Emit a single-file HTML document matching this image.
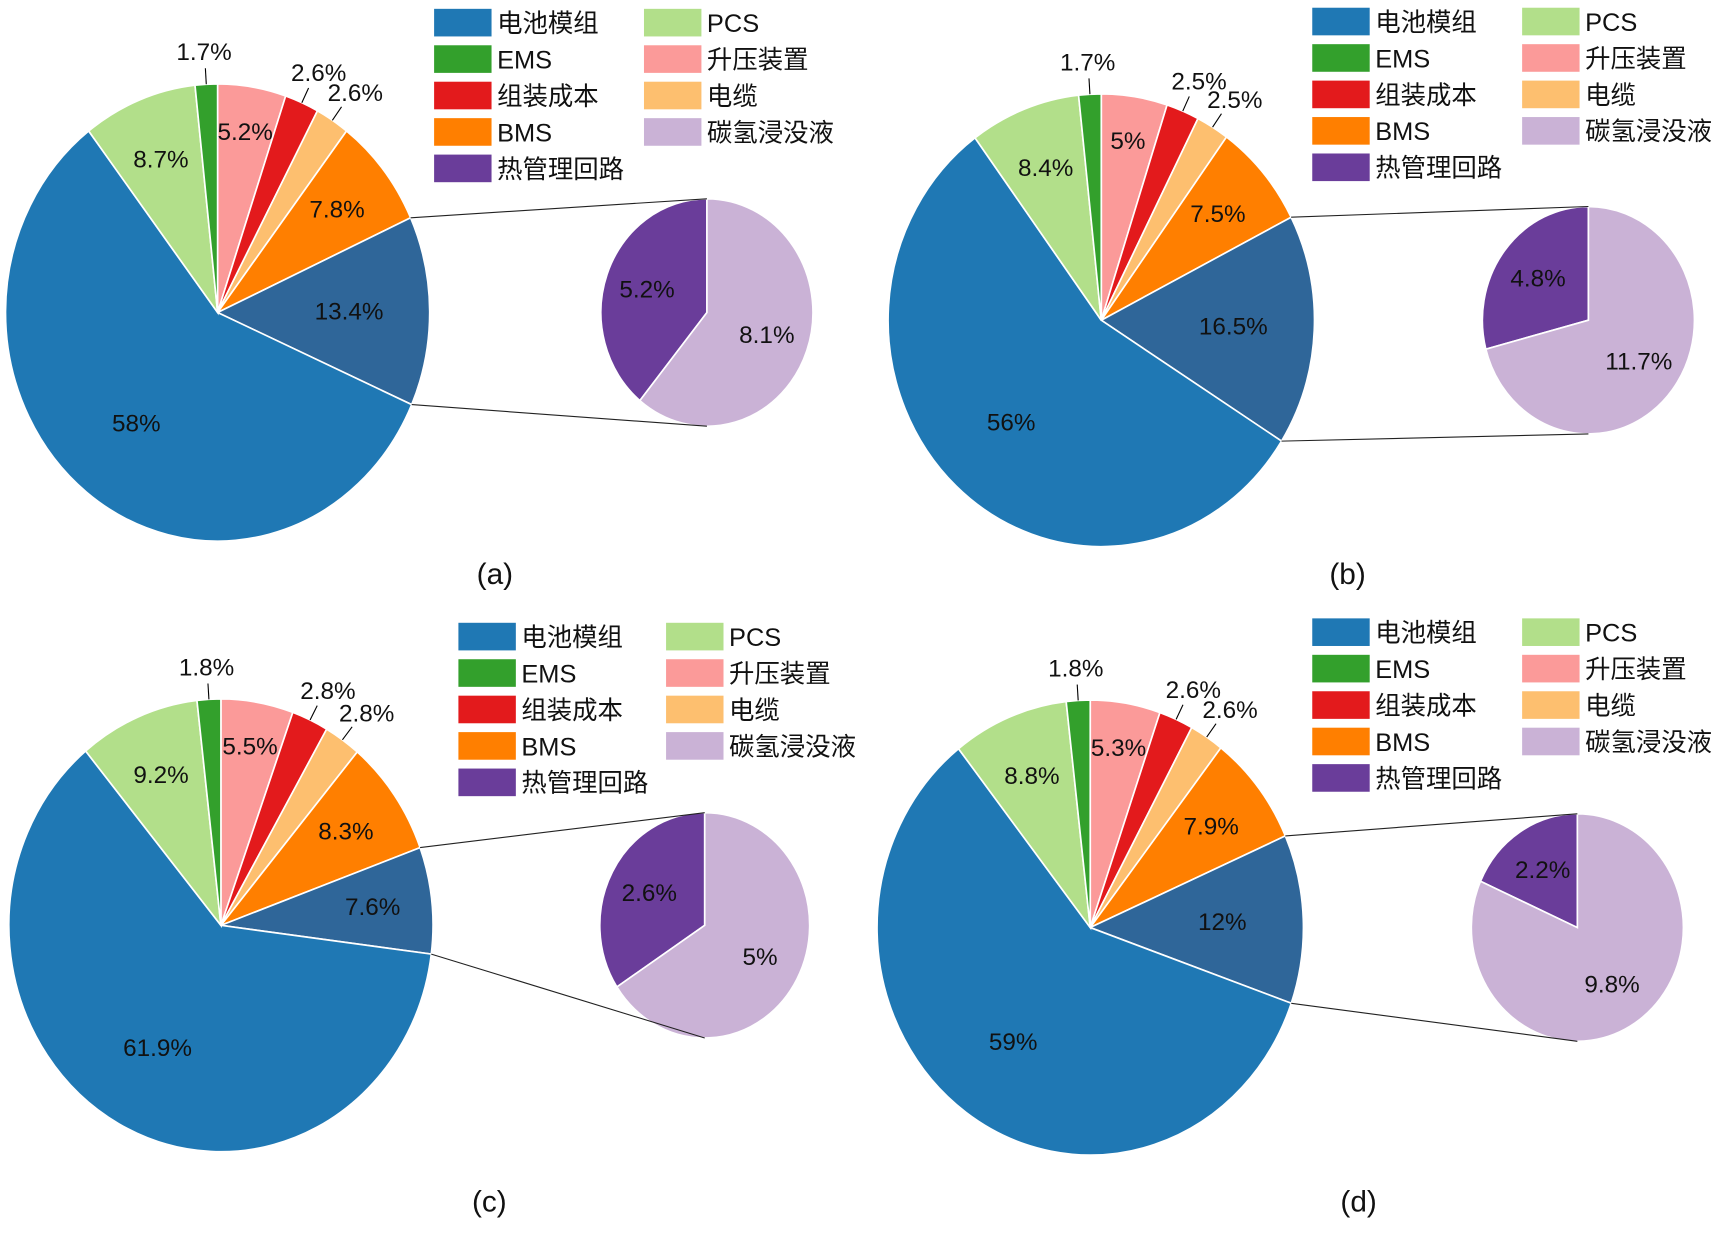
<!DOCTYPE html>
<html><head><meta charset="utf-8"><style>
html,body{margin:0;padding:0;background:#fff;}
svg{display:block;}
text{font-family:"Liberation Sans","Noto Sans CJK SC",sans-serif;}
</style></head><body>
<svg id="chart" width="1732" height="1250" viewBox="0 0 1568 1132" preserveAspectRatio="none" xmlns="http://www.w3.org/2000/svg"></svg>
<script>
// slice order (clockwise from 12 o'clock): 升压装置, 组装成本, 电缆, BMS, 热管理+碳氢(combined), 电池模组, PCS, EMS
const sliceNames = ['升压装置','组装成本','电缆','BMS','combined','电池模组','PCS','EMS'];
const valuesA = [5.2, 2.6, 2.6, 7.8, 13.4, 58, 8.7, 1.7];
const valuesB = [5, 2.5, 2.5, 7.5, 16.5, 56, 8.4, 1.7];
const valuesC = [5.5, 2.8, 2.8, 8.3, 7.6, 61.9, 9.2, 1.8];
const valuesD = [5.3, 2.6, 2.6, 7.9, 12, 59, 8.8, 1.8];
const labelsA = ['5.2%','2.6%','2.6%','7.8%','13.4%','58%','8.7%','1.7%'];
const labelsB = ['5%','2.5%','2.5%','7.5%','16.5%','56%','8.4%','1.7%'];
const labelsC = ['5.5%','2.8%','2.8%','8.3%','7.6%','61.9%','9.2%','1.8%'];
const labelsD = ['5.3%','2.6%','2.6%','7.9%','12%','59%','8.8%','1.8%'];
// sub-pie: [热管理回路, 碳氢浸没液]
const subA = [5.2, 8.1];
const subB = [4.8, 11.7];
const subC = [2.6, 5];
const subD = [2.2, 9.8];
const subLabelsA = ['5.2%','8.1%'];
const subLabelsB = ['4.8%','11.7%'];
const subLabelsC = ['2.6%','5%'];
const subLabelsD = ['2.2%','9.8%'];
const legendNames = ['电池模组','EMS','组装成本','BMS','热管理回路','PCS','升压装置','电缆','碳氢浸没液'];

const colors = {'升压装置':'#fb9a99','组装成本':'#e31a1c','电缆':'#fdbf6f','BMS':'#ff7f00','combined':'#2f6699',
  '电池模组':'#1f78b4','PCS':'#b2df8a','EMS':'#33a02c','热管理回路':'#6a3d9a','碳氢浸没液':'#cab2d6'};

const svg = document.getElementById('chart');
const NS = 'http://www.w3.org/2000/svg';
function mk(tag, attrs){const e=document.createElementNS(NS,tag);for(const k in attrs)e.setAttribute(k,attrs[k]);return e;}
function pt(cx,cy,rx,ry,t){return [cx+rx*Math.sin(t), cy-ry*Math.cos(t)];}
function wedge(cx,cy,rx,ry,a0,a1){
  const p0=pt(cx,cy,rx,ry,a0), p1=pt(cx,cy,rx,ry,a1);
  const large = Math.abs(a1-a0)>Math.PI?1:0, sweep = a1>a0?1:0;
  return `M${cx},${cy} L${p0[0]},${p0[1]} A${rx},${ry} 0 ${large} ${sweep} ${p1[0]},${p1[1]} Z`;
}

const panels = [
 {id:'a',vals:valuesA,labs:labelsA,sub:subA,subl:subLabelsA,cx:197,cy:283,rx:192,ry:207,scx:640,scy:283,srx:96,sry:103,lx1:393,lx2:583,ly:8,cap:[448,520]},
 {id:'b',vals:valuesB,labs:labelsB,sub:subB,subl:subLabelsB,cx:997,cy:290,rx:193,ry:205,scx:1438,scy:290,srx:96,sry:103,lx1:1188,lx2:1378,ly:7,cap:[1220,520]},
 {id:'c',vals:valuesC,labs:labelsC,sub:subC,subl:subLabelsC,cx:200,cy:838,rx:192,ry:205,scx:638,scy:838,srx:95,sry:102,lx1:415,lx2:603,ly:564,cap:[443,1088]},
 {id:'d',vals:valuesD,labs:labelsD,sub:subD,subl:subLabelsD,cx:987,cy:840,rx:193,ry:206,scx:1428,scy:840,srx:96,sry:103,lx1:1188,lx2:1378,ly:560,cap:[1230,1088]}
];

panels.forEach(P=>{
  const g = mk('g',{});
  
  
  svg.appendChild(g);
  const total = P.vals.reduce((a,b)=>a+b,0);
  let acc=0, combStart=0, combEnd=0;
  P.vals.forEach((v,i)=>{
    const a0=acc/total*2*Math.PI; acc+=v; const a1=acc/total*2*Math.PI;
    const name=sliceNames[i];
    if(name==='combined'){combStart=a0;combEnd=a1;}
    const path=mk('path',{d:wedge(P.cx,P.cy,P.rx,P.ry,a0,a1),fill:colors[name],stroke:'#fff','stroke-width':1.5});
    
    
    g.appendChild(path);
    const mid=(a0+a1)/2;
    let lp;
    if(v>=5){
      const f = v<6 ? 0.8 : (v<10 ? 0.72 : 0.62);
      lp=pt(P.cx,P.cy,P.rx*f,P.ry*f,mid);
    } else {
      lp=pt(P.cx,P.cy,P.rx*1.2,P.ry*1.14,mid);
      const e=pt(P.cx,P.cy,P.rx,P.ry,mid), e2=pt(P.cx,P.cy,P.rx*1.08,P.ry*1.07,mid);
      const ln=mk('line',{x1:e[0],y1:e[1],x2:e2[0],y2:e2[1],stroke:'#000','stroke-width':1});
      
      
      g.appendChild(ln);
    }
    const t=mk('text',{x:lp[0],y:lp[1]+7,'text-anchor':'middle','font-size':22,fill:'#111'});
    t.textContent=P.labs[i];
    
    
    g.appendChild(t);
  });
  // sub pie
  const st=P.sub[0]+P.sub[1];
  const pa=P.sub[0]/st*2*Math.PI;
  const sp1=mk('path',{d:wedge(P.scx,P.scy,P.srx,P.sry,0,-pa),fill:colors['热管理回路'],stroke:'#fff','stroke-width':1.5});
  
  
  g.appendChild(sp1);
  const sp2=mk('path',{d:wedge(P.scx,P.scy,P.srx,P.sry,0,2*Math.PI-pa),fill:colors['碳氢浸没液'],stroke:'#fff','stroke-width':1.5});
  
  
  g.appendChild(sp2);
  [[-pa/2,0],[(2*Math.PI-pa)/2,1]].forEach(([m,k])=>{
    const lp=pt(P.scx,P.scy,P.srx*0.6,P.sry*0.6,m);
    const t=mk('text',{x:lp[0],y:lp[1]+7,'text-anchor':'middle','font-size':22,fill:'#111'});
    t.textContent=P.subl[k];
    
    
    g.appendChild(t);
  });
  // connectors
  const c0=pt(P.cx,P.cy,P.rx,P.ry,combStart), c1=pt(P.cx,P.cy,P.rx,P.ry,combEnd);
  [[c0,P.scy-P.sry],[c1,P.scy+P.sry]].forEach(([c,yy])=>{
    const ln=mk('line',{x1:c[0],y1:c[1],x2:P.scx,y2:yy,stroke:'#222','stroke-width':1});
    
    
    g.appendChild(ln);
  });
  // legend
  legendNames.forEach((n,i)=>{
    const col=i<5?0:1, row=i<5?i:i-5;
    const x=col?P.lx2:P.lx1, y=P.ly+row*33;
    const r=mk('rect',{x:x,y:y,width:52,height:25,fill:colors[n]});
    
    
    g.appendChild(r);
    const t=mk('text',{x:x+57,y:y+21,'font-size':23,fill:'#111'});
    t.textContent=n;
    
    
    g.appendChild(t);
  });
  const cap=mk('text',{x:P.cap[0],y:P.cap[1]+9,'text-anchor':'middle','font-size':27,fill:'#111'});
  cap.textContent='('+P.id+')';
  
  
  g.appendChild(cap);
});
</script>
</body></html>
